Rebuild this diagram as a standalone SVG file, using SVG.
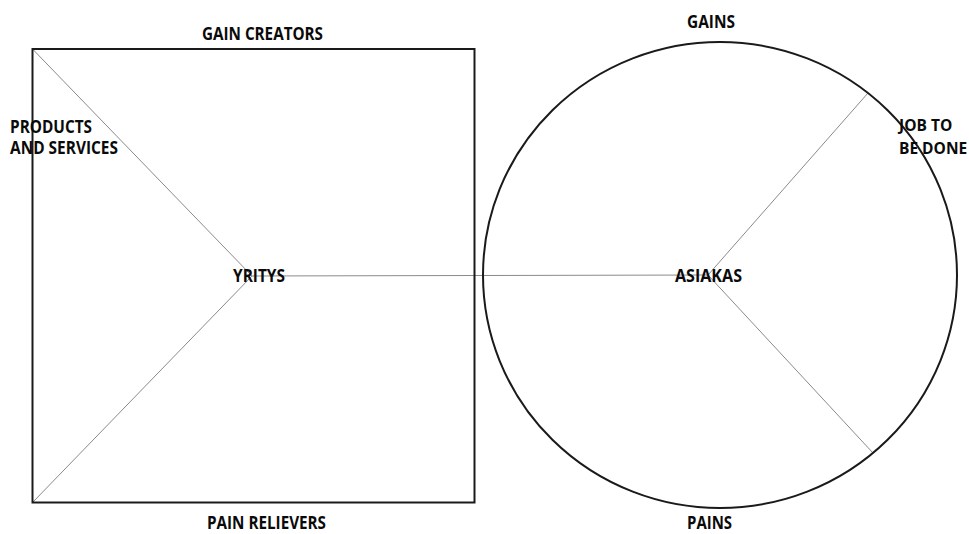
<svg xmlns="http://www.w3.org/2000/svg" width="969" height="534" viewBox="0 0 969 534">
<style>
.shape{fill:none;stroke:#1a1a1a;stroke-width:2}
.conn{stroke:#8a8a8a;stroke-width:1;fill:none}
.t{font-family:"Open Sans","Liberation Sans",sans-serif;font-weight:bold;font-size:17px;fill:#0a0a0a}
.s{font-size:15.5px}
</style>
<rect width="969" height="534" fill="#fff"/>
<g id="connectors">
<line class="conn" x1="32.5" y1="49" x2="252" y2="276"/>
<line class="conn" x1="32.5" y1="502.5" x2="252" y2="276"/>
<line class="conn" x1="252" y1="276" x2="708" y2="275"/>
<line class="conn" x1="708" y1="275" x2="868" y2="93"/>
<line class="conn" x1="708" y1="275" x2="873" y2="453"/>
</g>
<g id="yritys">
<rect class="shape" x="32.5" y="49" width="442" height="453.5"/>
<text class="t" x="233" y="282" textLength="52" lengthAdjust="spacingAndGlyphs">YRITYS</text>
</g>
<g id="gain-creators"><text class="t" x="202" y="40" textLength="121" lengthAdjust="spacingAndGlyphs">GAIN CREATORS</text></g>
<g id="products-services">
<text class="t" x="10" y="133" textLength="82" lengthAdjust="spacingAndGlyphs">PRODUCTS</text>
<text class="t" x="10" y="154" textLength="108" lengthAdjust="spacingAndGlyphs">AND SERVICES</text>
</g>
<g id="pain-relievers"><text class="t" x="207" y="529" textLength="119" lengthAdjust="spacingAndGlyphs">PAIN RELIEVERS</text></g>
<g id="asiakas">
<ellipse class="shape" cx="720" cy="275" rx="237" ry="233"/>
<text class="t" x="675" y="282" textLength="67" lengthAdjust="spacingAndGlyphs">ASIAKAS</text>
</g>
<g id="gains"><text class="t" x="687" y="28" textLength="48" lengthAdjust="spacingAndGlyphs">GAINS</text></g>
<g id="job-to-be-done">
<text class="t s" x="899" y="131">JOB TO</text>
<text class="t s" x="899" y="154">BE DONE</text>
</g>
<g id="pains"><text class="t" x="687" y="529" textLength="45" lengthAdjust="spacingAndGlyphs">PAINS</text></g>
</svg>
